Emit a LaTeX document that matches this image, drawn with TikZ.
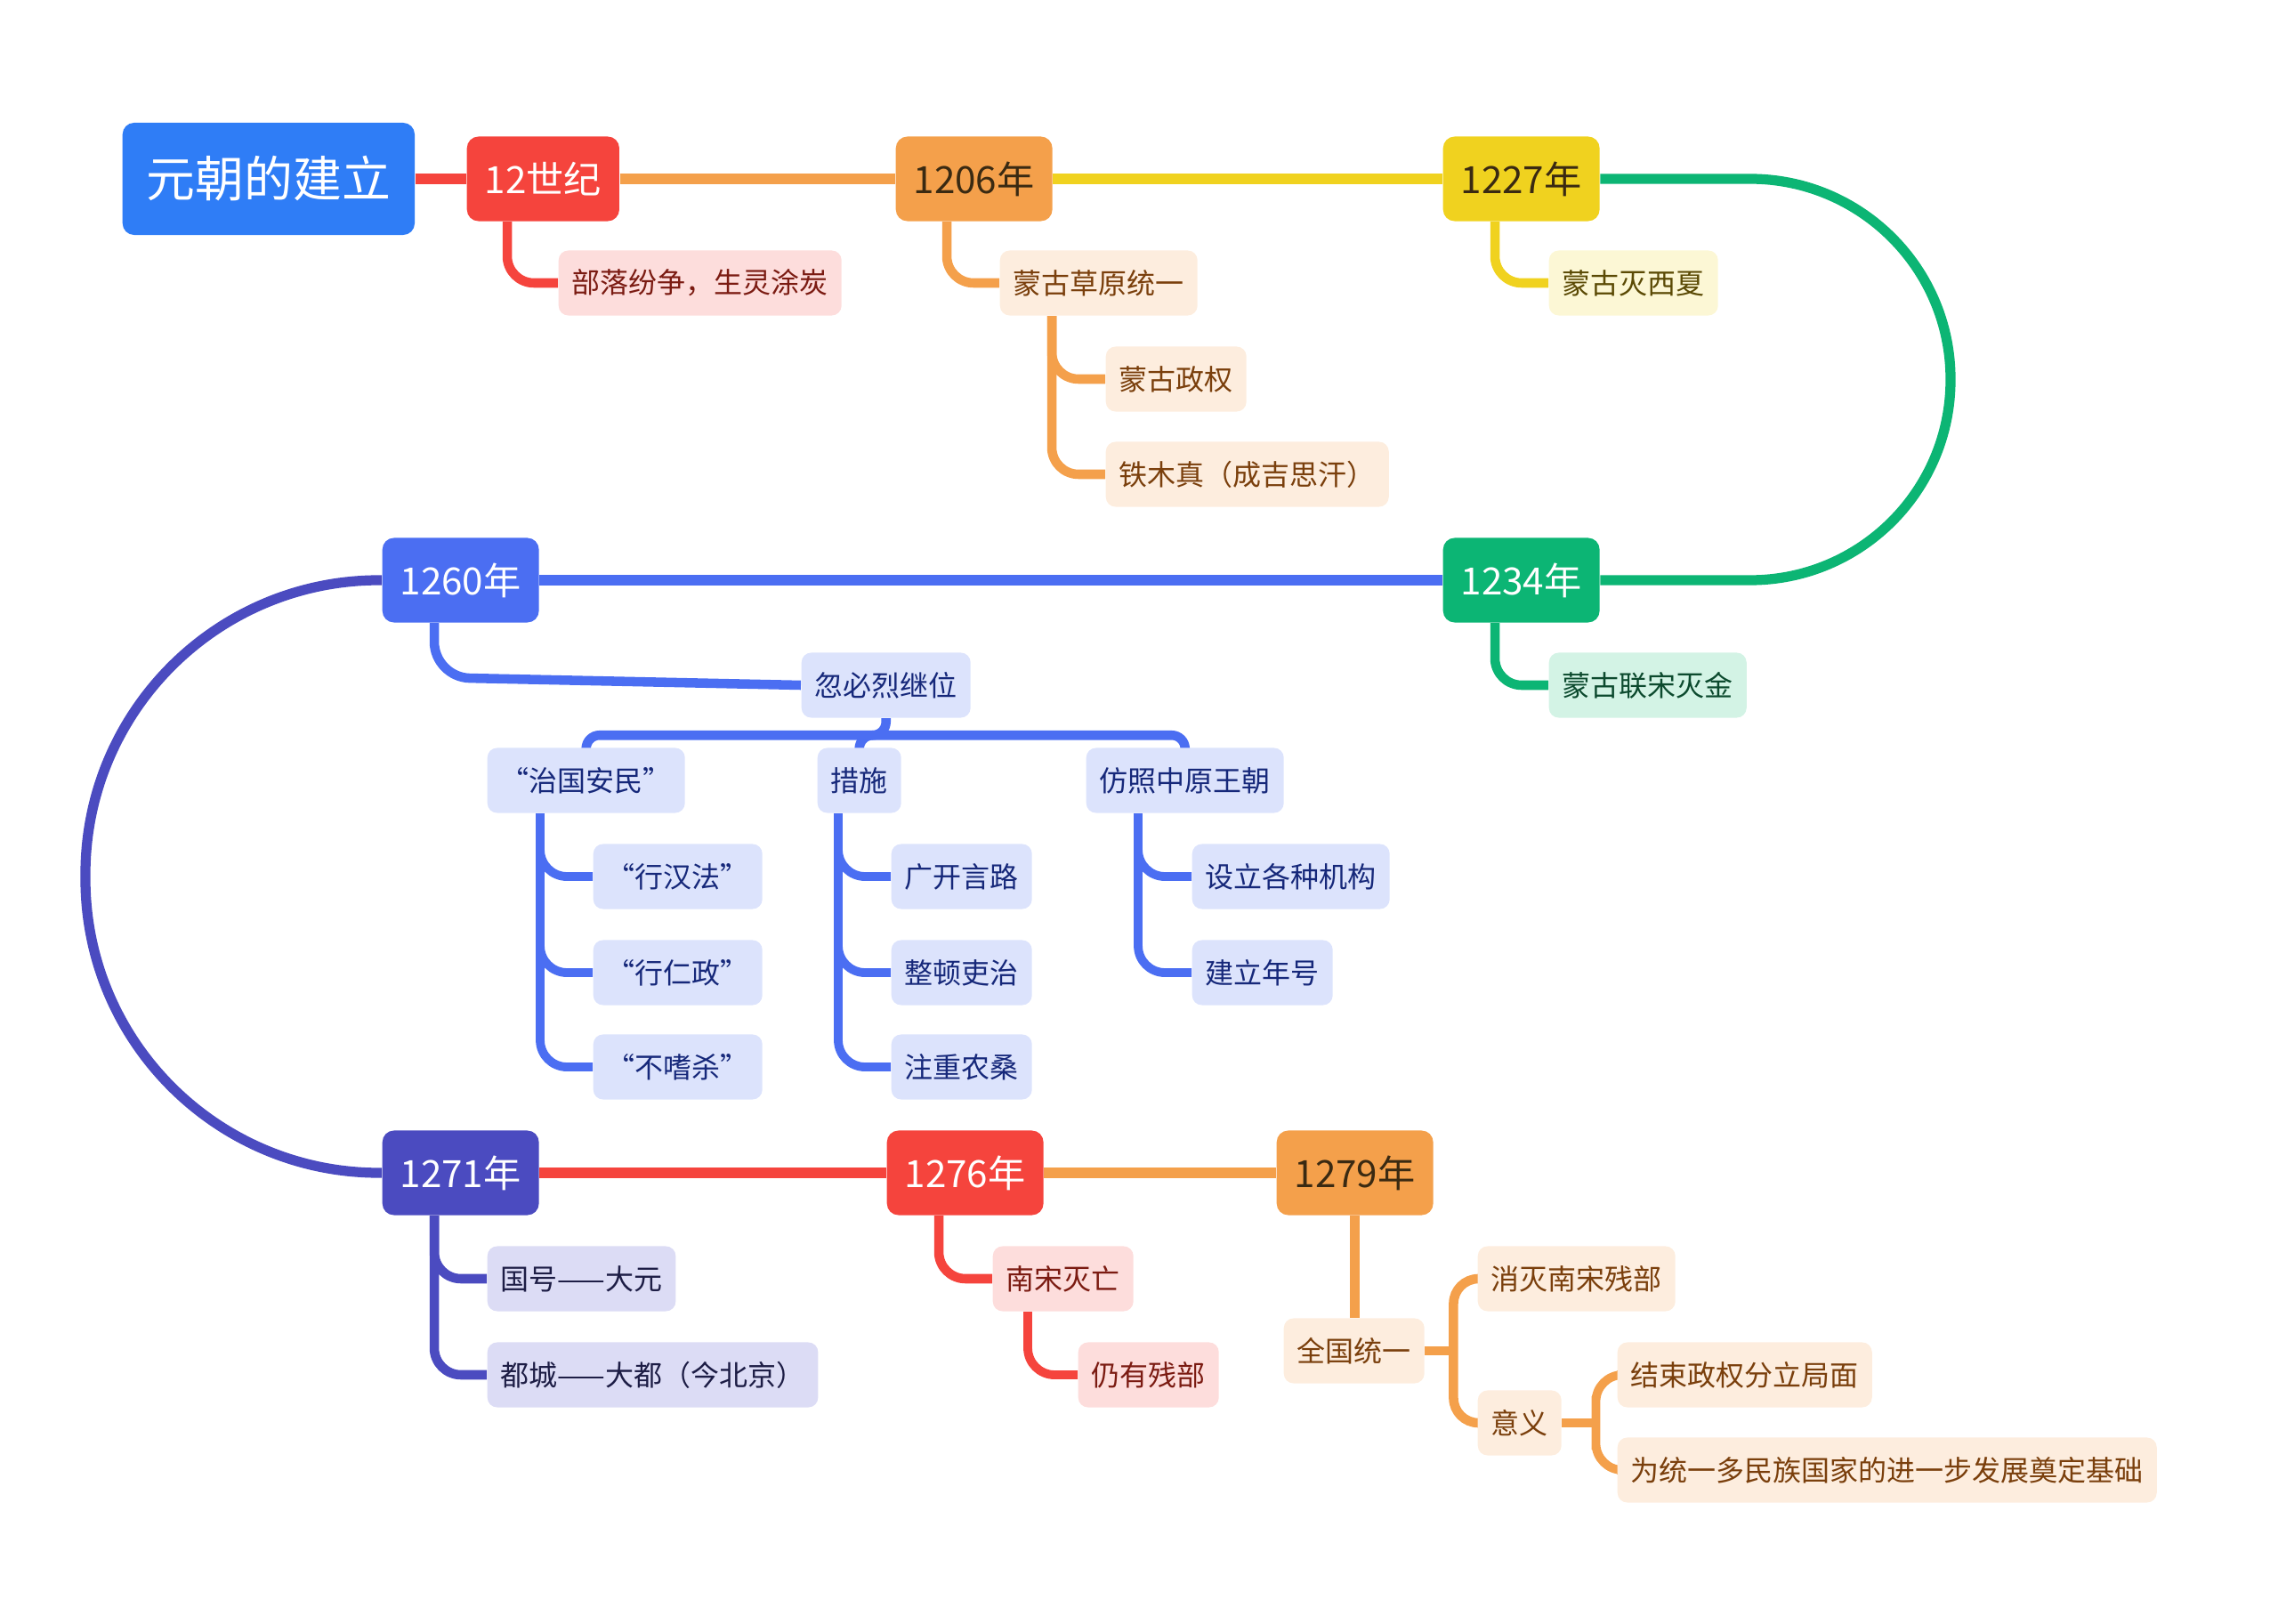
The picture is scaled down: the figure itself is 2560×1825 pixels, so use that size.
\documentclass[tikz,border=0pt]{standalone}
\usepackage{fontspec}
\setmainfont{Noto Sans CJK SC}
\usetikzlibrary{backgrounds}

\definecolor{cRoot}{HTML}{2F7DF6}
\definecolor{cRed}{HTML}{F5443D}
\definecolor{cRedL}{HTML}{FDDDDC}
\definecolor{cRedT}{HTML}{7B1B12}
\definecolor{cOra}{HTML}{F4A04B}
\definecolor{cOraL}{HTML}{FDEDDE}
\definecolor{cOraT}{HTML}{7A3F0C}
\definecolor{cYel}{HTML}{F0D21F}
\definecolor{cYelL}{HTML}{FCF7D5}
\definecolor{cYelT}{HTML}{5B4A05}
\definecolor{cGrn}{HTML}{0CB574}
\definecolor{cGrnL}{HTML}{D3F3E5}
\definecolor{cGrnT}{HTML}{0C4A2E}
\definecolor{cBlu}{HTML}{4B6EF2}
\definecolor{cBluL}{HTML}{DCE3FC}
\definecolor{cBluT}{HTML}{16287A}
\definecolor{cInd}{HTML}{4B4BC0}
\definecolor{cIndL}{HTML}{DCDCF5}
\definecolor{cIndT}{HTML}{1D1D45}
\definecolor{cDark}{HTML}{3A2A12}

\begin{document}
\begin{tikzpicture}[x=0.01cm, y=-0.01cm,
  rootbox/.style={fill=cRoot, text=white, rounded corners=0.13cm, minimum height=1.26cm,
    inner xsep=0.27cm, font=\fontsize{15.6}{18}\selectfont, anchor=west},
  yearbox/.style={rounded corners=0.13cm, minimum height=0.95cm, inner xsep=0.2cm,
    text=white, font=\fontsize{12}{14}\selectfont, anchor=west},
  leaf/.style={rounded corners=0.11cm, minimum height=0.73cm, inner xsep=0.15cm,
    font=\fontsize{9.1}{11}\selectfont, anchor=west},
  link/.style={line width=3.2pt},
  twig/.style={line width=3pt, rounded corners=0.3cm},
  ]
  % Canvas (pixel grid of the page)
  \useasboundingbox (0,0) rectangle (2560,1825);

  % Timeline
  \node[rootbox] (root) at (137,201) {元朝的建立};
  \node[yearbox, fill=cRed] (t12) at (524,201) {12世纪};
  \node[yearbox, fill=cOra, text=cDark] (t1206) at (1006,201) {1206年};
  \node[yearbox, fill=cYel, text=cDark] (t1227) at (1621,201) {1227年};
  \node[yearbox, fill=cGrn] (t1234) at (1621,652) {1234年};
  \node[yearbox, fill=cBlu] (t1260) at (429,652) {1260年};
  \node[yearbox, fill=cInd] (t1271) at (429,1318) {1271年};
  \node[yearbox, fill=cRed] (t1276) at (996,1318) {1276年};
  \node[yearbox, fill=cOra, text=cDark] (t1279) at (1434,1318) {1279年};

  % Leaves: (name/left/middle/text)
  \foreach \nm/\px/\py/\txt in {bl/627/318/部落纷争，生灵涂炭,
      nf/1115/1437/南宋灭亡, ry/1211/1545/仍有残部}
    \node[leaf, fill=cRedL, text=cRedT] (\nm) at (\px,\py) {\txt};
  \foreach \nm/\px/\py/\txt in {mc/1123/318/蒙古草原统一, mz/1242/426/蒙古政权,
      tmz/1242/533/铁木真（成吉思汗）, qg/1442/1518/全国统一,
      xm/1660/1437/消灭南宋残部, yy/1660/1599/意义,
      js/1817/1545/结束政权分立局面, wt/1817/1652/为统一多民族国家的进一步发展奠定基础}
    \node[leaf, fill=cOraL, text=cOraT] (\nm) at (\px,\py) {\txt};
  \node[leaf, fill=cYelL, text=cYelT] (xx) at (1740,318) {蒙古灭西夏};
  \node[leaf, fill=cGrnL, text=cGrnT] (lj) at (1740,770) {蒙古联宋灭金};
  \foreach \nm/\px/\py/\txt in {kb/900/770/忽必烈继位,
      zg/547/877/“治国安民”, cs/918/877/措施, fz/1220/877/仿照中原王朝,
      hf/666/985/“行汉法”, hr/666/1093/“行仁政”, bs/666/1199/“不嗜杀”,
      gk/1001/985/广开言路, zd/1001/1093/整顿吏治, zn/1001/1199/注重农桑,
      sl/1339/985/设立各种机构, jl/1339/1093/建立年号}
    \node[leaf, fill=cBluL, text=cBluT] (\nm) at (\px,\py) {\txt};
  \foreach \nm/\px/\py/\txt in {gh/547/1437/国号——大元, dc/547/1545/都城——大都（今北京）}
    \node[leaf, fill=cIndL, text=cIndT] (\nm) at (\px,\py) {\txt};

  % Junctions
  \coordinate (kbj) at ([yshift=-0.19cm]kb.south);
  \coordinate (qgj) at ([xshift=0.32cm]qg.east);
  \coordinate (yyj) at ([xshift=0.38cm]yy.east);

  \begin{scope}[on background layer]
    % timeline links
    \draw[link, cRed] (root.east) -- (t12.west);
    \draw[link, cOra] (t12.east) -- (t1206.west);
    \draw[link, cYel] (t1206.east) -- (t1227.west);
    \draw[link, cGrn, rounded corners=2.25cm] (t1227.east) -- (2192,201) -- (2192,652) -- (t1234.east);
    \draw[link, cBlu] (t1234.west) -- (t1260.east);
    \draw[link, cInd, rounded corners=3.3cm] (t1260.west) -- (96,652) -- (96,1318) -- (t1271.west);
    \draw[link, cRed] (t1271.east) -- (t1276.west);
    \draw[link, cOra] (t1276.east) -- (t1279.west);

    % branches (parent/child/offset)
    \draw[twig, cRed] ([xshift=0.46cm]t12.south west) |- (bl.west);
    \foreach \p/\c/\dx in {t1206/mc/0.58, mc/mz/0.59, mc/tmz/0.59}
      \draw[twig, cOra] ([xshift=\dx cm]\p.south west) |- (\c.west);
    \draw[twig, cYel] ([xshift=0.59cm]t1227.south west) |- (xx.west);
    \draw[twig, cGrn] ([xshift=0.59cm]t1234.south west) |- (lj.west);
    \draw[twig, cBlu, rounded corners=0.4cm] ([xshift=0.59cm]t1260.south west) -- ++(0,61) -- (kb.west);
    \foreach \p/\c/\dx in {zg/hf/0.6, zg/hr/0.6, zg/bs/0.6, cs/gk/0.24, cs/zd/0.24, cs/zn/0.24,
        fz/sl/0.59, fz/jl/0.59}
      \draw[twig, cBlu, line width=2.8pt] ([xshift=\dx cm]\p.south west) |- (\c.west);
    \draw[twig, cBlu, rounded corners=0.15cm] (zg.north) |- (kbj) -| (fz.north);
    \draw[twig, cBlu, rounded corners=0.15cm] (kb.south) -- (kbj) -| (cs.north);
    \foreach \c in {gh, dc}
      \draw[twig, cInd] ([xshift=0.59cm]t1271.south west) |- (\c.west);
    \draw[twig, cRed] ([xshift=0.59cm]t1276.south west) |- (nf.west);
    \draw[twig, cRed, line width=2.8pt] ([xshift=0.4cm]nf.south west) |- (ry.west);
    \draw[twig, cOra] (t1279.south) -- (t1279.south |- qg.north);
    \draw[twig, cOra, rounded corners=0.28cm] (xm.west) -| (qgj) |- (yy.west);
    \draw[twig, cOra] (qg.east) -- (qgj);
    \draw[twig, cOra, line width=2.8pt, rounded corners=0.3cm] (js.west) -| (yyj) |- (wt.west);
    \draw[twig, cOra, line width=2.8pt] (yy.east) -- (yyj);
  \end{scope}
\end{tikzpicture}
\end{document}
